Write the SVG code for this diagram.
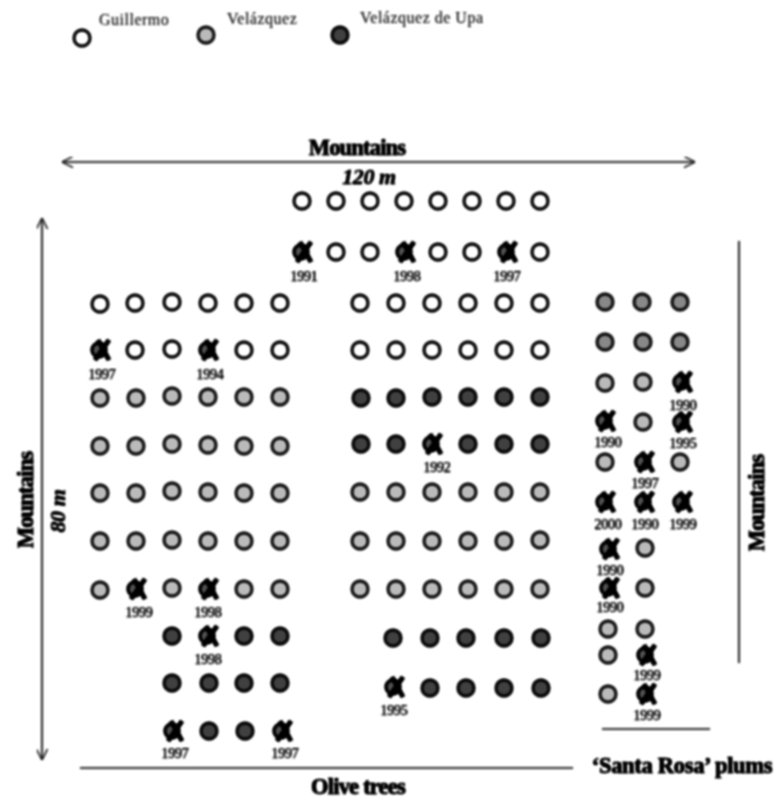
<svg xmlns="http://www.w3.org/2000/svg" width="776" height="798" viewBox="0 0 776 798">
<style>
text{font-family:"Liberation Serif","Times New Roman",serif;fill:#000}
.t{font-size:22.5px;font-weight:bold;text-anchor:middle;letter-spacing:-.8px;stroke:#000;stroke-width:.5}
.i{font-size:22px;font-style:italic;font-weight:bold;text-anchor:middle;letter-spacing:-.4px;stroke:#000;stroke-width:.3}
.y{font-size:14px;text-anchor:middle;letter-spacing:-.3px;stroke:#000;stroke-width:.25}
.l{font-size:16px;fill:#333;letter-spacing:.5px}
.c{stroke:#333;stroke-width:1.6;fill:none}
.x{stroke:#000;stroke-width:4.6;fill:none}
.g{fill:#fff;stroke:#111;stroke-width:2.8}
.v{fill:#cfcfcf;stroke:#222;stroke-width:2.8}
.s{fill:#a8a8a8;stroke:#222;stroke-width:2.8}
.d{fill:#666;stroke:#111;stroke-width:2.8}
</style>
<defs>
<filter id="b" x="0" y="0" width="100%" height="100%" color-interpolation-filters="sRGB"><feGaussianBlur stdDeviation="0.9"/><feComponentTransfer><feFuncR type="gamma" exponent="1.5"/><feFuncG type="gamma" exponent="1.5"/><feFuncB type="gamma" exponent="1.5"/></feComponentTransfer></filter>
<marker id="a" viewBox="0 0 10 10" refX="10" refY="5" markerWidth="11" markerHeight="11" markerUnits="userSpaceOnUse" orient="auto-start-reverse"><path d="M0 0L10 5L0 10" fill="none" stroke="#333" stroke-width="1.2"/></marker>
<circle id="G" r="8" class="g"/>
<circle id="V" r="8" class="v"/>
<circle id="S" r="8" class="s"/>
<circle id="D" r="8" class="d"/>
<g id="X"><circle r="7" cx="-2" fill="#777" stroke="#000" stroke-width="3"/><path class="x" d="M-3-10L8 10M8-10L-6 10"/></g>
</defs>
<g filter="url(#b)">
<rect width="776" height="798" fill="#fff"/>
<g id="connectors">
<path class="c" d="M62 162H695" marker-start="url(#a)" marker-end="url(#a)"/>
<path class="c" d="M42 218V760" marker-start="url(#a)" marker-end="url(#a)"/>
<path class="c" d="M739 241V663"/>
<path class="c" d="M80 768H573"/>
<path class="c" d="M602 729H710"/>
</g>
<g id="labels">
<text class="t" x="357" y="155">Mountains</text>
<text class="i" x="369" y="184">120 m</text>
<text class="t" x="358" y="794">Olive trees</text>
<text class="t" x="682" y="773" style="letter-spacing:-.3px">‘Santa Rosa’ plums</text>
<text class="t" transform="translate(33 500) rotate(-90)">Mountains</text>
<text class="i" transform="translate(65 511) rotate(-90)">80 m</text>
<text class="t" transform="translate(764 503) rotate(-90)">Mountains</text>
</g>
<g id="legend">
<g id="legend-guillermo"><use href="#G" x="82" y="38"/><text class="l" x="99" y="25">Guillermo</text></g>
<g id="legend-velazquez"><use href="#V" x="206" y="35"/><text class="l" x="227" y="24">Velázquez</text></g>
<g id="legend-upa"><use href="#D" x="340" y="35"/><text class="l" x="360" y="23">Velázquez de Upa</text></g>
</g>
<g id="top-block">
<use href="#G" x="302" y="201"/><use href="#G" x="336" y="201"/><use href="#G" x="370" y="201"/><use href="#G" x="404" y="201"/><use href="#G" x="438" y="201"/><use href="#G" x="472" y="201"/><use href="#G" x="506" y="201"/><use href="#G" x="540" y="201"/>
<g id="t1991"><use href="#X" x="303" y="252"/><text class="y" x="304" y="281">1991</text></g><use href="#G" x="336" y="252"/><use href="#G" x="370" y="252"/>
<g id="t1998a"><use href="#X" x="406" y="252"/><text class="y" x="407" y="281">1998</text></g><use href="#G" x="438" y="252"/><use href="#G" x="472" y="252"/>
<g id="t1997a"><use href="#X" x="508" y="252"/><text class="y" x="507" y="281">1997</text></g><use href="#G" x="540" y="252"/>
</g>
<g id="left-block">
<use href="#G" x="100" y="304"/><use href="#G" x="135" y="303"/><use href="#G" x="172" y="302"/><use href="#G" x="208" y="303"/><use href="#G" x="244" y="303"/><use href="#G" x="280" y="303"/>
<g id="t1997b"><use href="#X" x="101" y="350"/><text class="y" x="102" y="379">1997</text></g><use href="#G" x="135" y="350"/><use href="#G" x="172" y="349"/>
<g id="t1994"><use href="#X" x="209" y="350"/><text class="y" x="210" y="379">1994</text></g><use href="#G" x="244" y="350"/><use href="#G" x="280" y="350"/>
<use href="#V" x="100" y="398"/><use href="#V" x="136" y="398"/><use href="#V" x="172" y="396"/><use href="#V" x="208" y="397"/><use href="#V" x="244" y="397"/><use href="#V" x="280" y="397"/>
<use href="#V" x="100" y="446"/><use href="#V" x="136" y="446"/><use href="#V" x="172" y="444"/><use href="#V" x="208" y="445"/><use href="#V" x="244" y="446"/><use href="#V" x="280" y="446"/>
<use href="#V" x="100" y="493"/><use href="#V" x="136" y="493"/><use href="#V" x="172" y="491"/><use href="#V" x="208" y="492"/><use href="#V" x="244" y="493"/><use href="#V" x="280" y="493"/>
<use href="#V" x="100" y="541"/><use href="#V" x="136" y="541"/><use href="#V" x="172" y="540"/><use href="#V" x="208" y="541"/><use href="#V" x="244" y="541"/><use href="#V" x="280" y="541"/>
<use href="#V" x="100" y="590"/><g id="t1999a"><use href="#X" x="137" y="589"/><text class="y" x="139" y="617">1999</text></g><use href="#V" x="172" y="588"/>
<g id="t1998b"><use href="#X" x="209" y="589"/><text class="y" x="208" y="617">1998</text></g><use href="#V" x="244" y="589"/><use href="#V" x="280" y="589"/>
<use href="#D" x="172" y="636"/><g id="t1998c"><use href="#X" x="209" y="636"/><text class="y" x="208" y="664">1998</text></g><use href="#D" x="244" y="636"/><use href="#D" x="280" y="636"/>
<use href="#D" x="172" y="683"/><use href="#D" x="209" y="683"/><use href="#D" x="244" y="683"/><use href="#D" x="280" y="683"/>
<g id="t1997c"><use href="#X" x="174" y="731"/><text class="y" x="175" y="758">1997</text></g><use href="#D" x="209" y="731"/><use href="#D" x="245" y="731"/>
<g id="t1997d"><use href="#X" x="283" y="731"/><text class="y" x="285" y="758">1997</text></g>
</g>
<g id="middle-block">
<use href="#G" x="360" y="303"/><use href="#G" x="396" y="303"/><use href="#G" x="432" y="303"/><use href="#G" x="468" y="303"/><use href="#G" x="504" y="303"/><use href="#G" x="540" y="303"/>
<use href="#G" x="360" y="350"/><use href="#G" x="396" y="350"/><use href="#G" x="432" y="350"/><use href="#G" x="468" y="350"/><use href="#G" x="504" y="350"/><use href="#G" x="540" y="350"/>
<use href="#D" x="361" y="398"/><use href="#D" x="396" y="398"/><use href="#D" x="432" y="397"/><use href="#D" x="468" y="397"/><use href="#D" x="504" y="397"/><use href="#D" x="540" y="397"/>
<use href="#D" x="361" y="444"/><use href="#D" x="396" y="444"/><g id="t1992"><use href="#X" x="433" y="444"/><text class="y" x="437" y="472">1992</text></g><use href="#D" x="468" y="444"/><use href="#D" x="504" y="444"/><use href="#D" x="540" y="444"/>
<use href="#V" x="360" y="492"/><use href="#V" x="396" y="492"/><use href="#V" x="432" y="492"/><use href="#V" x="468" y="492"/><use href="#V" x="504" y="492"/><use href="#V" x="540" y="492"/>
<use href="#V" x="360" y="541"/><use href="#V" x="396" y="541"/><use href="#V" x="432" y="541"/><use href="#V" x="468" y="541"/><use href="#V" x="504" y="541"/><use href="#V" x="540" y="540"/>
<use href="#V" x="360" y="589"/><use href="#V" x="396" y="589"/><use href="#V" x="432" y="589"/><use href="#V" x="468" y="589"/><use href="#V" x="504" y="589"/><use href="#V" x="540" y="589"/>
<use href="#D" x="393" y="638"/><use href="#D" x="430" y="638"/><use href="#D" x="466" y="638"/><use href="#D" x="504" y="638"/><use href="#D" x="541" y="638"/>
<g id="t1995a"><use href="#X" x="395" y="687"/><text class="y" x="394" y="715">1995</text></g><use href="#D" x="430" y="688"/><use href="#D" x="466" y="688"/><use href="#D" x="504" y="688"/><use href="#D" x="541" y="688"/>
</g>
<g id="right-block">
<use href="#S" x="605" y="302"/><use href="#S" x="642" y="302"/><use href="#S" x="680" y="302"/>
<use href="#S" x="605" y="342"/><use href="#S" x="643" y="342"/><use href="#S" x="680" y="342"/>
<use href="#V" x="605" y="383"/><use href="#V" x="643" y="382"/><g id="t1990a"><use href="#X" x="683" y="382"/><text class="y" x="683" y="410">1990</text></g>
<g id="t1990b"><use href="#X" x="606" y="421"/><text class="y" x="608" y="447">1990</text></g><use href="#V" x="643" y="422"/><g id="t1995b"><use href="#X" x="683" y="422"/><text class="y" x="683" y="448">1995</text></g>
<use href="#V" x="605" y="462"/><g id="t1997e"><use href="#X" x="645" y="462"/><text class="y" x="645" y="488">1997</text></g><use href="#V" x="680" y="462"/>
<g id="t2000"><use href="#X" x="606" y="502"/><text class="y" x="608" y="529">2000</text></g><g id="t1990c"><use href="#X" x="645" y="502"/><text class="y" x="645" y="529">1990</text></g><g id="t1999b"><use href="#X" x="683" y="502"/><text class="y" x="683" y="529">1999</text></g>
<g id="t1990d"><use href="#X" x="610" y="549"/><text class="y" x="610" y="575">1990</text></g><use href="#V" x="645" y="548"/>
<g id="t1990e"><use href="#X" x="610" y="588"/><text class="y" x="610" y="612">1990</text></g><use href="#V" x="645" y="588"/>
<use href="#V" x="608" y="629"/><use href="#V" x="645" y="629"/>
<use href="#V" x="608" y="655"/><g id="t1999c"><use href="#X" x="647" y="655"/><text class="y" x="647" y="680">1999</text></g>
<use href="#V" x="608" y="694"/><g id="t1999d"><use href="#X" x="647" y="694"/><text class="y" x="647" y="720">1999</text></g>
</g>
</g>
</svg>
